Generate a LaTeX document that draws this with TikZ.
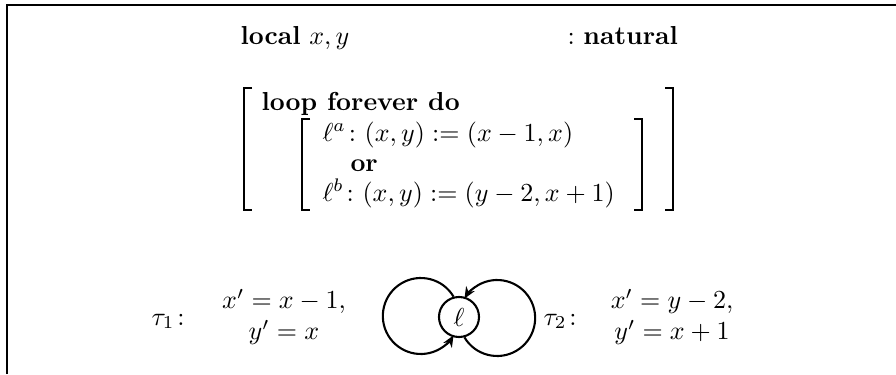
\documentclass[tikz,border=0pt]{standalone}
\usepackage{amsmath}
\usetikzlibrary{arrows.meta}
\begin{document}
\begin{tikzpicture}[x=0.384615pt, y=0.384615pt,
  txt/.style={inner sep=0pt, anchor=base west},
  ctxt/.style={inner sep=0pt, anchor=base},
  brk/.style={line width=0.5pt},
  frameline/.style={line width=0.8pt},
  state/.style={draw, circle, line width=0.8pt, minimum size=15.4pt, inner sep=0pt},
  loopline/.style={line width=0.8pt, -{Stealth[length=4.5pt,width=3.8pt]}}]
\useasboundingbox (0,0) rectangle (896,374);
% frame
\draw[frameline] (7,0) -- (7,369) -- (896,369);
% declaration
\node[txt] (decl) at (240,329) {\textbf{local} $x,y$};
\node[txt] (type) at (567,329) {$:$ \textbf{natural}};
% program
\node[txt] (loop) at (261,264) {\textbf{loop forever do}};
\node[txt] (la) at (322,233) {$\ell^a\colon (x,y) := (x-1,x)$};
\node[txt] (or) at (350,203) {\textbf{or}};
\node[txt] (lb) at (322,173) {$\ell^b\colon (x,y) := (y-2,x+1)$};
% brackets
\draw[brk] (252,286) -- (244,286) -- (244,164) -- (252,164);
\draw[brk] (310,255) -- (302,255) -- (302,164) -- (310,164);
\draw[brk] (634,255) -- (642,255) -- (642,164) -- (634,164);
\draw[brk] (665,286) -- (673,286) -- (673,164) -- (665,164);
% transitions
\node[txt] (t1) at (151,49) {$\tau_1\colon$};
\node[ctxt] (t1a) at (284,65.5) {$x' = x-1,$};
\node[ctxt] (t1b) at (284,34.5) {$y' = x$};
\node[txt] (t2) at (543,49) {$\tau_2\colon$};
\node[ctxt] (t2a) at (672,65.5) {$x' = y-2,$};
\node[ctxt] (t2b) at (672,34.5) {$y' = x+1$};
% control flow graph
\node[state] (l) at (459,57) {$\ell$};
\draw[loopline] (l.105) arc[start angle=30.6, end angle=329.4, radius=38];
\draw[loopline] (l.285) arc[start angle=210.6, end angle=509.4, radius=38];
\end{tikzpicture}
\end{document}
